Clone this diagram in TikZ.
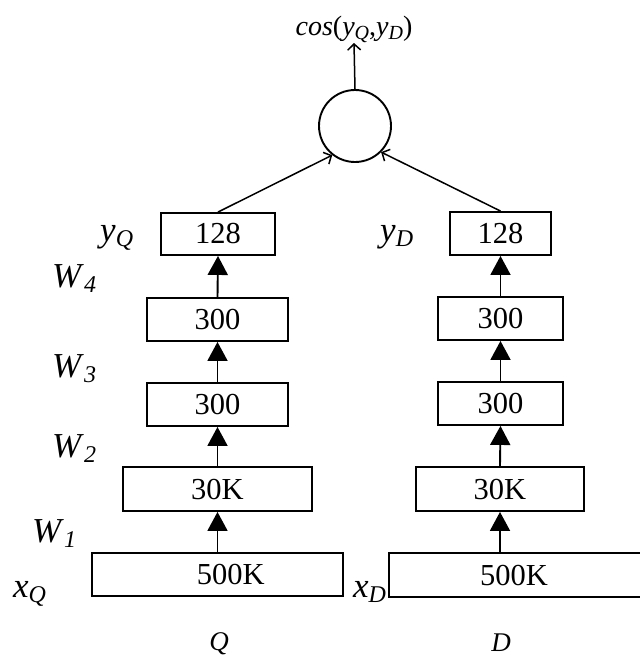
\documentclass[tikz,border=0pt]{standalone}
\usepackage{fontspec}
\setmainfont{Liberation Serif}
\usetikzlibrary{arrows.meta}
\newcommand\sublab[3]{\textit{#1}\raisebox{-#3}{\fontsize{24}{24}\selectfont\textit{#2}}}
\begin{document}
\begin{tikzpicture}[x=1pt,y=-1pt,
  box/.style={draw, line width=1.9pt, inner sep=0pt, font=\fontsize{30.5}{30}\selectfont},
  fat/.style={line width=1.9pt, -{Triangle[width=20pt,length=19pt]}},
  thin/.style={line width=1.5pt, -{Straight Barb[length=6pt,width=13pt,line width=1.5pt]}},
  lab/.style={inner sep=0pt, anchor=base west, font=\fontsize{35}{35}\selectfont},
  small/.style={inner sep=0pt, anchor=base, font=\fontsize{27}{27}\selectfont\itshape}]
\useasboundingbox (0,0) rectangle (640,657);
\clip (0,0) rectangle (640,657);
% left column
\node[box, minimum width=114pt, minimum height=42pt] (L128) at (218,234) {128};
\node[box, minimum width=141pt, minimum height=43pt] (L300a) at (217.5,319.5) {300};
\node[box, minimum width=141pt, minimum height=43pt] (L300b) at (217.5,404.5) {300};
\node[box, minimum width=189pt, minimum height=44pt] (L30) at (217.5,489) {30K};
\node[box, minimum width=251pt, minimum height=43pt, text width=251pt, align=left] (L500) at (217.5,574.5) {\hspace*{105pt}500K};
% right column
\node[box, minimum width=101pt, minimum height=43pt] (R128) at (500.5,233.5) {128};
\node[box, minimum width=125pt, minimum height=43pt] (R300a) at (500.5,318.5) {300};
\node[box, minimum width=125pt, minimum height=43pt] (R300b) at (500.5,403.5) {300};
\node[box, minimum width=168pt, minimum height=44pt] (R30) at (500,489) {30K};
\node[box, minimum width=256pt, minimum height=44pt, text width=256pt, align=left] (R500) at (517,575) {\hspace*{91pt}500K};
% circle and output
\node[draw, circle, line width=1.9pt, minimum size=72pt, inner sep=0pt] (C) at (355,126) {};
\node[inner sep=0pt, anchor=south, font=\fontsize{28}{28}\selectfont] (cos) at (354,43)
  {\textit{cos}(\textit{y}\raisebox{-4pt}{\fontsize{20}{20}\selectfont\textit{Q}},\textit{y}\raisebox{-4pt}{\fontsize{20}{20}\selectfont\textit{D}})};
% arrows
\draw[fat] (L500.north) -- (L30.south);
\draw[fat] (L30.north) -- (L300b.south);
\draw[fat] (L300b.north) -- (L300a.south);
\draw[fat] (L300a.north) -- (L128.south);
\draw[fat] (R30.south |- R500.north) -- (R30.south);
\draw[fat] (R30.north) -- (R300b.south);
\draw[fat] (R300b.north) -- (R300a.south);
\draw[fat] (R300a.north) -- (R128.south);
\draw[thin] (L128.north) -- (C.232);
\draw[thin] (R128.north) -- (C.315);
\draw[thin] (C.north) -- (cos.south);
% labels
\node[lab] (yQ) at (100,241) {\sublab{y}{Q}{5pt}};
\node[lab] (yD) at (380,241) {\sublab{y}{D}{5pt}};
\node[lab] (W4) at (52,287) {\sublab{W}{4}{5pt}};
\node[lab] (W3) at (52,377) {\sublab{W}{3}{5pt}};
\node[lab] (W2) at (52,457) {\sublab{W}{2}{5pt}};
\node[lab] (W1) at (32,542) {\sublab{W}{1}{5pt}};
\node[lab] (xQ) at (13,597) {\sublab{x}{Q}{5pt}};
\node[lab] (xD) at (353,597) {\sublab{x}{D}{5pt}};
\node[small] (Q) at (219,650) {Q};
\node[small] (D) at (501,651) {D};
\end{tikzpicture}
\end{document}
